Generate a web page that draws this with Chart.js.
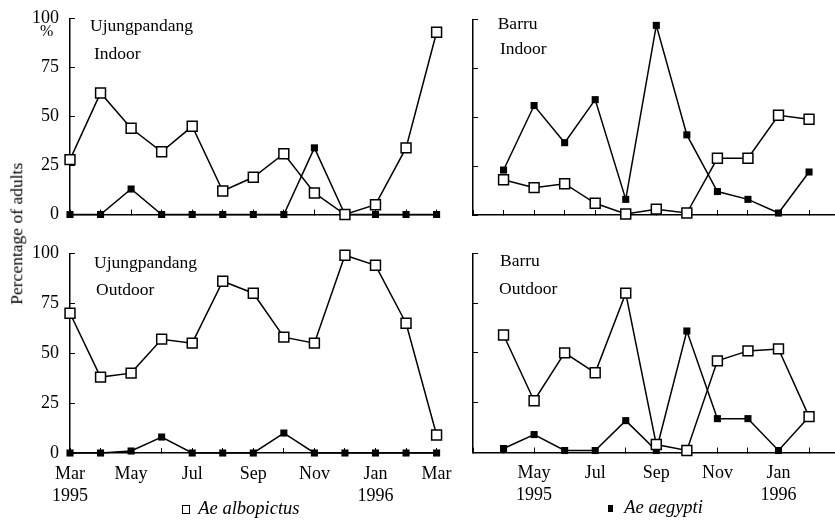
<!DOCTYPE html>
<html>
<head>
<meta charset="utf-8">
<script src="https://cdn.jsdelivr.net/npm/chart.js@4.4.0/dist/chart.umd.min.js"></script>
<style>
  body { margin: 0; background: #fff; }
  #wrap { position: relative; width: 835px; height: 522px; overflow: hidden;
          font-family: 'Liberation Serif', 'Times New Roman', serif; color: #000; }
  canvas { position: absolute; left: 0; top: 0; }
  .lbl { position: absolute; font-size: 17.5px; line-height: 17.5px; white-space: nowrap; }
  .leg { position: absolute; font-size: 18.5px; line-height: 18.5px; font-style: italic; white-space: nowrap; }
  .box { position: absolute; box-sizing: border-box; }
</style>
</head>
<body>
<div id="wrap">
  <canvas id="ujIn" width="835" height="522"></canvas>
  <canvas id="ujOut" width="835" height="522"></canvas>
  <canvas id="baIn" width="835" height="522"></canvas>
  <canvas id="baOut" width="835" height="522"></canvas>

  <div class="lbl" style="left:90px;top:17px">Ujungpandang</div>
  <div class="lbl" style="left:94px;top:44.6px">Indoor</div>
  <div class="lbl" style="left:40px;top:23px;font-size:16px;line-height:16px">%</div>
  <div class="lbl" style="left:94px;top:253.6px">Ujungpandang</div>
  <div class="lbl" style="left:96px;top:281.3px">Outdoor</div>
  <div class="lbl" style="left:497.7px;top:14.6px">Barru</div>
  <div class="lbl" style="left:500px;top:40.3px">Indoor</div>
  <div class="lbl" style="left:500px;top:252px">Barru</div>
  <div class="lbl" style="left:499px;top:280.3px">Outdoor</div>

  <div class="lbl" style="left:-83.5px;top:225.25px;width:200px;text-align:center;transform:rotate(-90deg)">Percentage of adults</div>

  <div class="box" style="left:182px;top:505px;width:8px;height:8.5px;border:1.5px solid #000"></div>
  <div class="leg" style="left:198.3px;top:498.5px">Ae albopictus</div>
  <div class="box" style="left:608px;top:505px;width:4.5px;height:7px;background:#000"></div>
  <div class="leg" style="left:624.3px;top:497.5px">Ae aegypti</div>
</div>

<script>
// month index 0 = Mar 1995 ... 12 = Mar 1996
const months = ['Mar', 'Apr', 'May', 'Jun', 'Jul', 'Aug', 'Sep', 'Oct', 'Nov', 'Dec', 'Jan', 'Feb', 'Mar'];
const yTicks = [0, 25, 50, 75, 100];

const ujIndoorAlbo  = [28, 62, 44, 32, 45, 12, 19, 31, 11, 0, 5, 34, 93];
const ujIndoorAeg   = [0, 0, 13, 0, 0, 0, 0, 0, 34, 0, 0, 0, 0];
const ujOutdoorAlbo = [70, 38, 40, 57, 55, 86, 80, 58, 55, 99, 94, 65, 9];
const ujOutdoorAeg  = [0, 0, 1, 8, 0, 0, 0, 10, 0, 0, 0, 0, 0];

const baIndoorAlbo  = [null, 18, 14, 16, 6, 0.5, 3, 1, 29, 29, 51, 49, null];
const baIndoorAeg   = [null, 23, 56, 37, 59, 8, 97, 41, 12, 8, 1, 22, null];
const baOutdoorAlbo = [null, 59, 26, 50, 40, 80, 4, 1, 46, 51, 52, 18, null];
const baOutdoorAeg  = [null, 2, 9, 1, 1, 16, 1, 61, 17, 17, 1, 18, null];

const leftXLabels  = [['Mar', '1995'], '', 'May', '', 'Jul', '', 'Sep', '', 'Nov', '', ['Jan', '1996'], '', 'Mar'];
const rightXLabels = ['', '', ['May', '1995'], '', 'Jul', '', 'Sep', '', 'Nov', '', ['Jan', '1996'], ''];

const FONT = "'Liberation Serif', 'Times New Roman', serif";
const STEP = 30.55;

function toPoints(arr) {
    const pts = [];
    arr.forEach((v, i) => {
        if (v !== null) pts.push({ x: i, y: v });
    });
    return pts;
}

function makePanel(id, area, albo, aeg, xLabels, showY) {
    const xMax = (area.r - area.l) / STEP;
    const xIdx = [];
    for (let i = 0; i <= Math.floor(xMax + 0.001); i++) xIdx.push(i);

    new Chart(document.getElementById(id), {
        type: 'line',
        data: {
            datasets: [{
                data: toPoints(albo),
                borderColor: '#000',
                borderWidth: 1.5,
                pointStyle: 'rect',
                pointRadius: 7,
                pointBackgroundColor: '#fff',
                pointBorderColor: '#000',
                pointBorderWidth: 1.5,
                tension: 0,
                clip: false
            }, {
                data: toPoints(aeg),
                borderColor: '#000',
                borderWidth: 1.5,
                pointStyle: 'rect',
                pointRadius: 5,
                pointBackgroundColor: '#000',
                pointBorderColor: '#000',
                pointBorderWidth: 0,
                tension: 0,
                clip: false
            }]
        },
        options: {
            responsive: false,
            animation: false,
            devicePixelRatio: 1,
            layout: { autoPadding: false, padding: { left: 0, top: area.t, right: 835 - area.r, bottom: 0 } },
            plugins: { legend: { display: false }, tooltip: { enabled: false } },
            scales: {
                x: {
                    type: 'linear',
                    min: 0,
                    max: xMax,
                    afterBuildTicks: s => { s.ticks = xIdx.map(v => ({ value: v })); },
                    afterFit: s => { s.height = 522 - area.b; s.paddingLeft = 0; s.paddingRight = 0; },
                    grid: { drawOnChartArea: false, tickLength: -5, color: '#000', lineWidth: 1 },
                    border: { color: '#000', width: 1.5 },
                    ticks: {
                        padding: 15,
                        color: '#000',
                        autoSkip: false,
                        maxRotation: 0,
                        font: { family: FONT, size: 18, lineHeight: '22px' },
                        callback: v => (xLabels && xLabels[v]) ? xLabels[v] : ''
                    }
                },
                y: {
                    min: 0,
                    max: 100,
                    afterBuildTicks: s => { s.ticks = yTicks.map(v => ({ value: v })); },
                    afterFit: s => { s.width = area.l; s.paddingTop = 0; s.paddingBottom = 0; },
                    grid: { drawOnChartArea: false, tickLength: -5, color: '#000', lineWidth: 1 },
                    border: { color: '#000', width: 1.5 },
                    ticks: {
                        padding: 16,
                        color: '#000',
                        font: { family: FONT, size: 18 },
                        callback: v => showY ? String(v) : ''
                    }
                }
            }
        }
    });
}

document.addEventListener('DOMContentLoaded', () => {
    makePanel('ujIn',  { l: 70,  r: 436.6, t: 18.5,  b: 214.5 }, ujIndoorAlbo,  ujIndoorAeg,  null, true);
    makePanel('ujOut', { l: 70,  r: 436.6, t: 253.3, b: 453 },   ujOutdoorAlbo, ujOutdoorAeg, leftXLabels, true);
    makePanel('baIn',  { l: 473, r: 835,   t: 19.5,  b: 215 },   baIndoorAlbo,  baIndoorAeg,  null, false);
    makePanel('baOut', { l: 473, r: 835,   t: 253.3, b: 452.5 }, baOutdoorAlbo, baOutdoorAeg, rightXLabels, false);
});
</script>
</body>
</html>
